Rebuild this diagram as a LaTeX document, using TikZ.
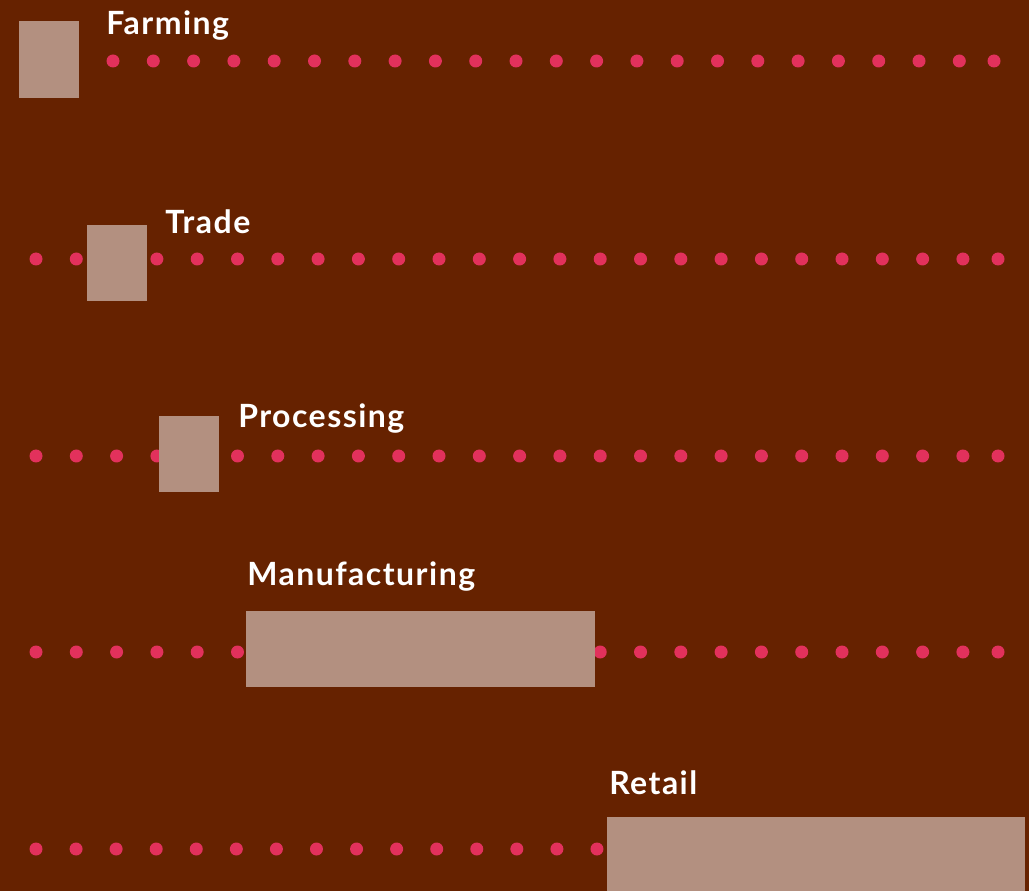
\documentclass[tikz,border=0pt]{standalone}
\usepackage{fontspec}
\setmainfont{Lato}
\newfontfamily\stagefont{Lato}[LetterSpace=4.6]
\usepackage{tikz}
\usepackage{xcolor}

\definecolor{bgbrown}{RGB}{102,34,0}
\definecolor{barrose}{RGB}{179,144,128}
\definecolor{dotred}{RGB}{226,49,92}

\tikzset{
  stagebar/.style={fill=barrose, draw=none, inner sep=0pt, anchor=north west},
  stagelabel/.style={anchor=base west, inner sep=0pt, text=white,
    font=\stagefont\fontsize{24}{28}\selectfont\bfseries},
  griddot/.style={fill=dotred}
}

\begin{document}
\begin{tikzpicture}[x=0.75pt,y=0.75pt,yscale=-1,xscale=1]
  %set diagram frame 1029 x 891
  \useasboundingbox (0,0) rectangle (1029,891);
  \fill [bgbrown] (0,0) rectangle (1029,891);

  %Dotted rows
  \foreach \i in {0,...,21} \fill [griddot] (113+\i*40.3,61) circle (6.5);
  \fill [griddot] (994,61) circle (6.5);
  \foreach \y in {259,456,652} {
    \foreach \i in {0,...,23} \fill [griddot] (36+\i*40.3,\y) circle (6.5);
    \fill [griddot] (998,\y) circle (6.5);
  }
  \foreach \i in {0,...,14} \fill [griddot] (36+\i*40.07,849) circle (6.5);

  %Bars
  \node [stagebar, minimum width=45pt, minimum height=57.75pt] (farmbar) at (19,21) {};
  \node [stagebar, minimum width=45pt, minimum height=57pt] (tradebar) at (87,225) {};
  \node [stagebar, minimum width=45pt, minimum height=57pt] (procbar) at (159,416) {};
  \node [stagebar, minimum width=261.75pt, minimum height=57pt] (manubar) at (246,611) {};
  \node [stagebar, minimum width=313.5pt, minimum height=55.5pt] (retailbar) at (607,817) {};

  % Text Node
  \node [stagelabel] (farmlabel) at (106,35) {Farming};
  % Text Node
  \node [stagelabel] (tradelabel) at (165,234) {Trade};
  % Text Node
  \node [stagelabel] (proclabel) at (238,428) {Processing};
  % Text Node
  \node [stagelabel] (manulabel) at (247,585) {Manufacturing};
  % Text Node
  \node [stagelabel] (retaillabel) at (609,794) {Retail};

\end{tikzpicture}
\end{document}
